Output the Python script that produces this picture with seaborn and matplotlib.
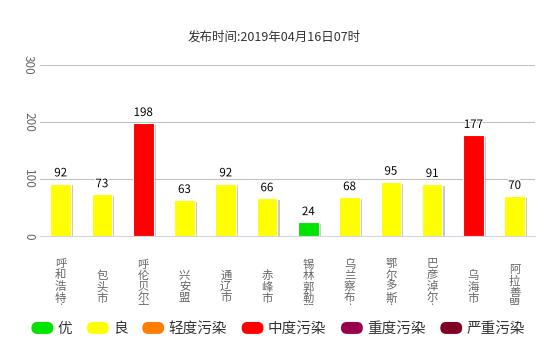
import numpy as np
import matplotlib
matplotlib.use("Agg")
import matplotlib.pyplot as plt
import matplotlib.patheffects as pe
from matplotlib.patches import FancyBboxPatch, Patch
from matplotlib.legend_handler import HandlerPatch
from matplotlib.transforms import Bbox, TransformedBbox
import seaborn as sns

# ---- data ----
title = "发布时间:2019年04月16日07时"
cities = ["呼和浩特市", "包头市", "呼伦贝尔市", "兴安盟", "通辽市", "赤峰市",
          "锡林郭勒盟", "乌兰察布市", "鄂尔多斯市", "巴彦淖尔市", "乌海市", "阿拉善盟"]
aqi = [92, 73, 198, 63, 92, 66, 24, 68, 95, 91, 177, 70]
levels = ["良", "良", "中度污染", "良", "良", "良", "优", "良", "良", "良", "中度污染", "良"]
level_names = ["优", "良", "轻度污染", "中度污染", "重度污染", "严重污染"]
level_colors = ["#00e400", "#ffff00", "#ff7e00", "#ff0000", "#99004c", "#7e0023"]
yticks = [0, 100, 200, 300]

sns.set_style("white")
plt.rcParams["font.family"] = ["Noto Sans CJK SC", "DejaVu Sans"]

W, H = 552, 352
fig = plt.figure(figsize=(W / 100, H / 100), dpi=100)
ax = fig.add_axes([40 / W, (H - 236) / H, 495.3 / W, 171 / H])

color_of = dict(zip(level_names, level_colors))
palette = {c: color_of[l] for c, l in zip(cities, levels)}
sns.barplot(x=cities, y=aqi, hue=cities, palette=palette, legend=False,
            width=0.5, saturation=1, edgecolor="white", linewidth=0.8, ax=ax)

for p in ax.patches:
    p.set_path_effects([pe.SimplePatchShadow(offset=(1.6, -1.2), shadow_rgbFace="black", alpha=0.22),
                        pe.Normal()])

for cont in ax.containers:
    ax.bar_label(cont, padding=3, fontsize=8.3, color="black",
                 path_effects=[pe.withStroke(linewidth=2, foreground="white")])

ax.set_xlim(-0.5, len(cities) - 0.5)
ax.set_ylim(0, 300)
ax.set_yticks(yticks)
ax.tick_params(axis="y", length=0, pad=3.6, labelsize=8.5, labelcolor="#666666")
for t in ax.get_yticklabels():
    t.set_rotation(-90)
    t.set_va("center")
ax.yaxis.grid(True, color="#c0c0c0", linewidth=0.75)
ax.set_axisbelow(True)
for s in ["top", "right", "left"]:
    ax.spines[s].set_visible(False)
ax.spines["bottom"].set_color("#ccd6eb")
ax.spines["bottom"].set_linewidth(0.75)

ax.set_xticks(range(len(cities)))
ax.set_xticklabels(["\n".join(c) for c in cities], fontsize=8.2, color="#666666",
                   linespacing=1.07, va="center")
ax.set_xticks(np.arange(-0.5, len(cities), 1), minor=True)
ax.tick_params(axis="x", which="major", length=0, pad=36.7)
ax.tick_params(axis="x", which="minor", length=3, width=0.75, color="#ccd6eb")
clip = TransformedBbox(Bbox([[0, (H - 305) / H], [1, 1]]), fig.transFigure)
for t in ax.get_xticklabels():
    t.set_clip_box(clip)
    t.set_clip_on(True)
ax.set_xlabel("")
ax.set_ylabel("")

fig.text(274 / W, 1 - 37 / H, title, ha="center", va="center", fontsize=9, color="#333333")

def pill(legend, orig_handle, xdescent, ydescent, width, height, fontsize):
    h = 8.6
    y0 = -ydescent + (height - h) / 2
    return FancyBboxPatch((-xdescent, y0), width, h,
                          boxstyle=f"round,pad=0,rounding_size={h / 2}", mutation_scale=1)

handles = [Patch(facecolor=c, edgecolor="none") for c in level_colors]
leg = fig.legend(handles, level_names, loc="center", bbox_to_anchor=(278 / W, 23 / H),
                 ncol=6, frameon=False, prop={"size": 10.5}, handlelength=1.5,
                 handleheight=0.82, handletextpad=0.27, columnspacing=1.03, borderpad=0,
                 handler_map={Patch: HandlerPatch(patch_func=pill)})
for t in leg.get_texts():
    t.set_color("#333333")

fig.savefig("out.png", dpi=100)
